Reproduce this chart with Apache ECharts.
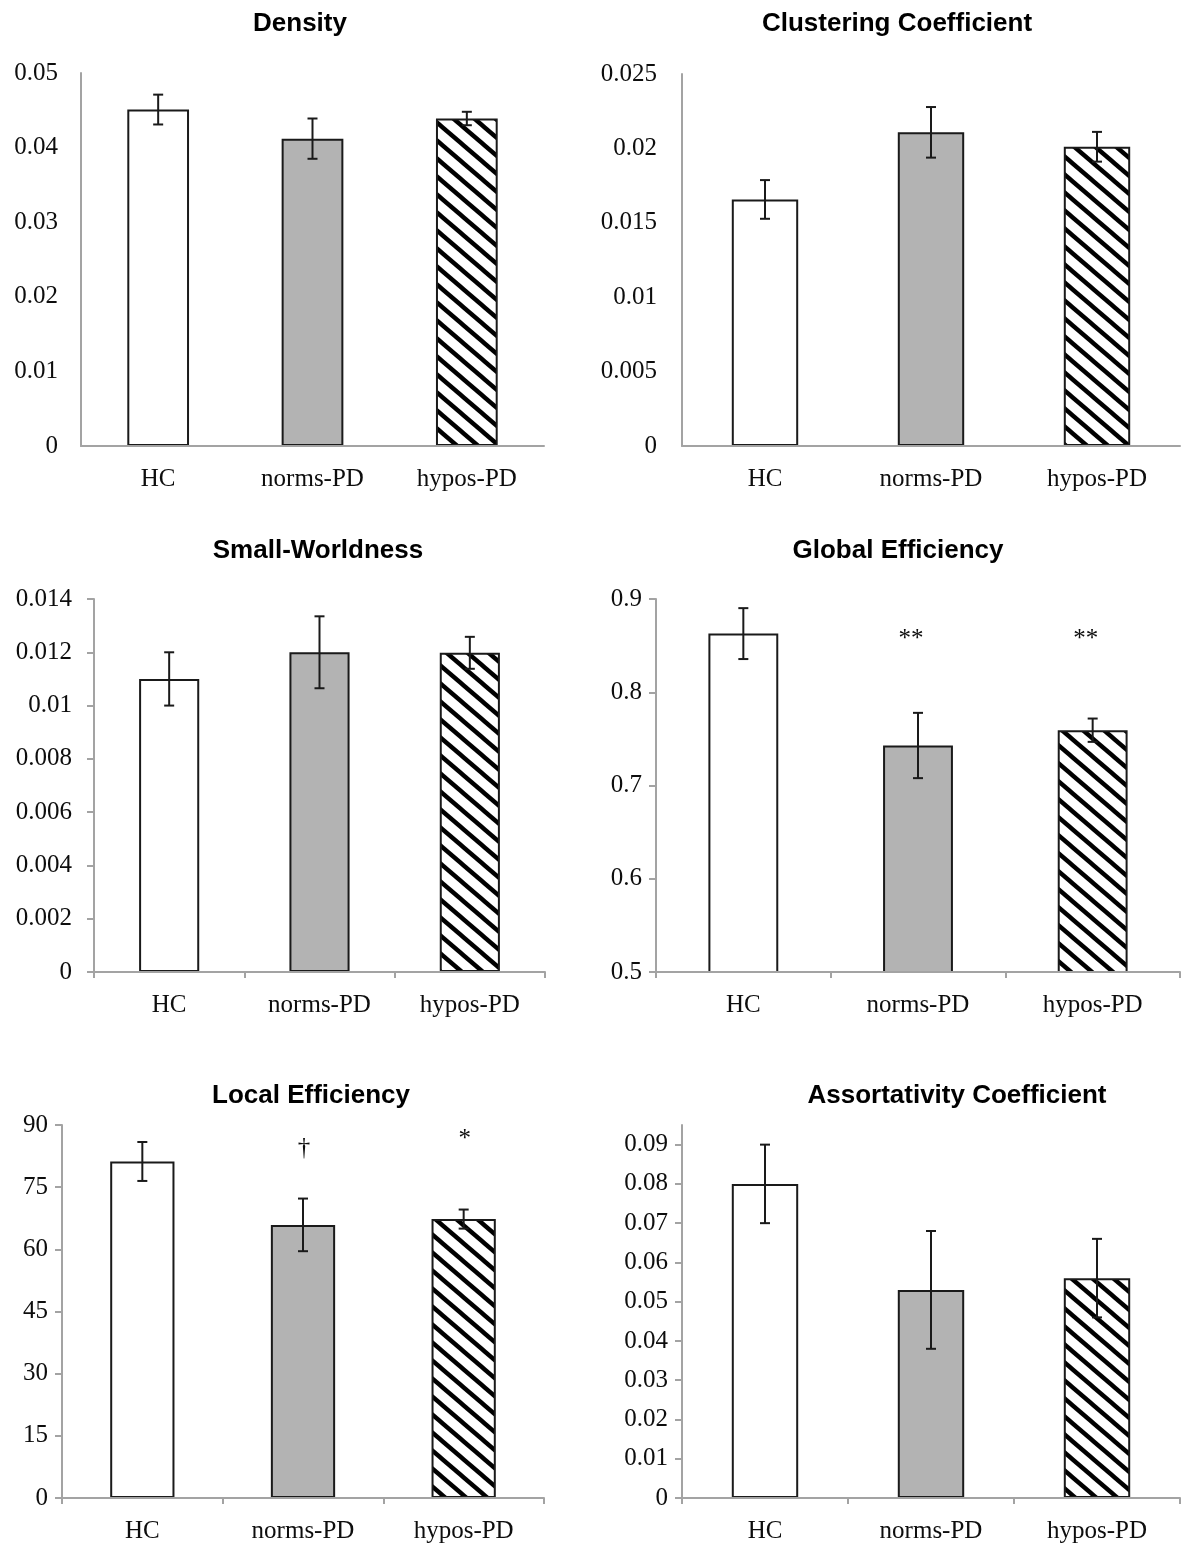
<!DOCTYPE html>
<html><head><meta charset="utf-8">
<script src="https://cdn.jsdelivr.net/npm/echarts@6/dist/echarts.min.js"></script>
<style>html,body{margin:0;padding:0;background:#fff}#c{width:1188px;height:1545px}</style>
</head><body><div id="c"></div>
<script>
// ---------------- DATA ----------------
const categories = ['HC', 'norms-PD', 'hypos-PD'];
const panelTitles = ['Density', 'Clustering Coefficient', 'Small-Worldness', 'Global Efficiency', 'Local Efficiency', 'Assortativity Coefficient'];

const densityMean = [0.0451, 0.0412, 0.0439];
const densityErr = [0.0020, 0.0027, 0.0009];
const clusteringMean = [0.01657, 0.02108, 0.02011];
const clusteringErr = [0.0013, 0.0017, 0.0010];
const smallWorldMean = [0.0110, 0.0120, 0.01198];
const smallWorldErr = [0.0010, 0.00135, 0.0006];
const globalEffMean = [0.8629, 0.7429, 0.7593];
const globalEffErr = [0.0273, 0.0350, 0.0125];
const localEffMean = [81.2, 65.9, 67.3];
const localEffErr = [4.7, 6.35, 2.3];
const assortMean = [0.080, 0.053, 0.056];
const assortErr = [0.010, 0.015, 0.010];

// significance markers (text + height in data units)
const globalSigText = ['', '**', '**'];
const globalSigY = [null, 0.857, 0.857];
const localSigText = ['', '\u2020', '*'];
const localSigY = [null, 84.4, 86.4];

// y-axis tick ranges: [min, max, step]
const densityTicks = [0, 0.05, 0.01];
const clusteringTicks = [0, 0.025, 0.005];
const smallWorldTicks = [0, 0.014, 0.002];
const globalEffTicks = [0.5, 0.9, 0.1];
const localEffTicks = [0, 90, 15];
const assortTicks = [0, 0.09, 0.01];
const assortAxisTop = 0.095;

// ---------------- LAYOUT / STYLE ----------------
const layout = [
  {grid: {left: 81, top: 73, width: 463, height: 373}, tx: 300, ty: 11, ym: 23, ticks: false, sigDx: 0},
  {grid: {left: 682, top: 74, width: 498, height: 372}, tx: 897, ty: 11, ym: 25, ticks: false, sigDx: 0},
  {grid: {left: 94, top: 599, width: 451, height: 373}, tx: 318, ty: 538, ym: 22, ticks: true, sigDx: 0},
  {grid: {left: 656, top: 599, width: 524, height: 373}, tx: 898, ty: 538, ym: 14, ticks: true, sigDx: -7},
  {grid: {left: 62, top: 1125, width: 482, height: 373}, tx: 311, ty: 1083, ym: 14, ticks: true, sigDx: 1},
  {grid: {left: 682, top: 1125, width: 498, height: 373}, tx: 957, ty: 1083, ym: 14, ticks: true, sigDx: 0}
];

const panels = [
  {mean: densityMean, err: densityErr, ticks: densityTicks},
  {mean: clusteringMean, err: clusteringErr, ticks: clusteringTicks},
  {mean: smallWorldMean, err: smallWorldErr, ticks: smallWorldTicks},
  {mean: globalEffMean, err: globalEffErr, ticks: globalEffTicks, sigText: globalSigText, sigY: globalSigY},
  {mean: localEffMean, err: localEffErr, ticks: localEffTicks, sigText: localSigText, sigY: localSigY},
  {mean: assortMean, err: assortErr, ticks: assortTicks, axisTop: assortAxisTop}
];

function makeHatch() {
  const W = 21, H = 18;
  const c = document.createElement('canvas');
  c.width = W; c.height = H;
  const g = c.getContext('2d');
  g.fillStyle = '#ffffff'; g.fillRect(0, 0, W, H);
  g.strokeStyle = '#000000'; g.lineWidth = 4.4;
  for (const dx of [-W, 0, W]) {
    g.beginPath(); g.moveTo(dx - W, -H); g.lineTo(dx + 2 * W, 2 * H); g.stroke();
  }
  return c;
}
const hatch = {image: makeHatch(), repeat: 'repeat'};
const fills = ['#ffffff', '#b3b3b3', hatch];

const serif = 'Liberation Serif';
const axisColor = '#a3a3a3';
const textColor = '#0d0d0d';

function errRender(params, api) {
  const i = api.value(0), v = api.value(1), e = api.value(2);
  const top = api.coord([i, v + e]);
  const bot = api.coord([i, v - e]);
  const cap = 5;
  const style = {stroke: '#1a1a1a', lineWidth: 2};
  return {type: 'group', children: [
    {type: 'line', shape: {x1: top[0], y1: top[1], x2: bot[0], y2: bot[1]}, style},
    {type: 'line', shape: {x1: top[0] - cap, y1: top[1], x2: top[0] + cap, y2: top[1]}, style},
    {type: 'line', shape: {x1: bot[0] - cap, y1: bot[1], x2: bot[0] + cap, y2: bot[1]}, style}
  ]};
}

function sigRenderFactory(texts, dx) {
  return function (params, api) {
    const t = texts[params.dataIndex];
    if (!t) return null;
    const p = api.coord([api.value(0), api.value(1)]);
    return {type: 'text', x: p[0] + dx, y: p[1], style: {
      text: t, align: 'center', verticalAlign: 'middle',
      font: '25px "' + serif + '"', fill: textColor
    }};
  };
}

const option = {
  animation: false,
  backgroundColor: '#ffffff',
  title: [], grid: [], xAxis: [], yAxis: [], series: []
};

panels.forEach((p, k) => {
  const L = layout[k];
  option.title.push({
    text: panelTitles[k], left: L.tx, top: L.ty, textAlign: 'center', padding: 0,
    textStyle: {fontFamily: 'Liberation Sans', fontWeight: 'bold', fontSize: 26, color: '#000'}
  });
  option.grid.push(Object.assign({containLabel: false, outerBoundsMode: 'none'}, L.grid));
  option.xAxis.push({
    type: 'category', gridIndex: k, data: categories, z: 5,
    axisLine: {lineStyle: {color: axisColor, width: 2}},
    axisTick: {show: L.ticks, length: 6, lineStyle: {color: axisColor, width: 2}},
    axisLabel: {margin: 21, fontFamily: serif, fontSize: 25, color: textColor},
    splitLine: {show: false}
  });
  const yMin = p.ticks[0], yMax = p.axisTop != null ? p.axisTop : p.ticks[1], step = p.ticks[2];
  const tickVals = [];
  for (let n = 0; yMin + n * step <= p.ticks[1] + step * 1e-6; n++) tickVals.push(+(yMin + n * step).toFixed(6));
  const ya = {
    type: 'value', gridIndex: k, min: yMin, max: yMax, interval: step, z: 5,
    axisLine: {show: true, lineStyle: {color: axisColor, width: 2}},
    axisTick: {show: L.ticks, length: 7, lineStyle: {color: axisColor, width: 2}},
    axisLabel: {margin: L.ym, fontFamily: serif, fontSize: 25, color: textColor, showMaxLabel: p.axisTop == null},
    splitLine: {show: false}
  };
  if (p.axisTop != null) ya.axisTick.customValues = tickVals;
  option.yAxis.push(ya);
  option.series.push({
    type: 'bar', xAxisIndex: k, yAxisIndex: k, barWidth: '40%',
    data: p.mean.map((v, i) => ({value: v, itemStyle: {color: fills[i]}})),
    itemStyle: {borderColor: '#1a1a1a', borderWidth: 2},
    emphasis: {disabled: true}
  });
  option.series.push({
    type: 'custom', xAxisIndex: k, yAxisIndex: k, z: 6,
    renderItem: errRender,
    encode: {x: 0, y: 1},
    data: p.mean.map((v, i) => [i, v, p.err[i]])
  });
  if (p.sigText) {
    option.series.push({
      type: 'custom', xAxisIndex: k, yAxisIndex: k, z: 6,
      renderItem: sigRenderFactory(p.sigText, L.sigDx),
      encode: {x: 0, y: 1},
      data: p.sigY.map((y, i) => [i, y == null ? yMin : y])
    });
  }
});

const chart = echarts.init(document.getElementById('c'), null, {renderer: 'canvas'});
chart.setOption(option);
</script>
</body></html>
